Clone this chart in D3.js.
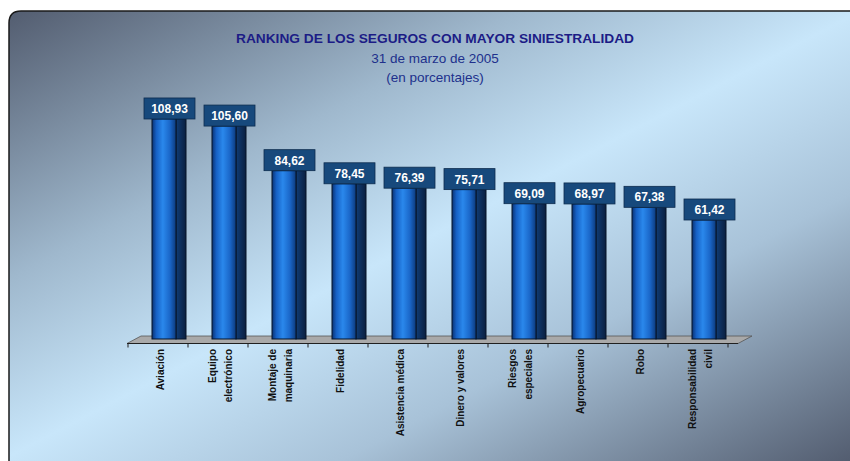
<!DOCTYPE html>
<html>
<head>
<meta charset="utf-8">
<script src="https://cdn.jsdelivr.net/npm/d3@7"></script>
<style>
  body { margin: 0; background: #fff; }
  svg { display: block; }
</style>
</head>
<body>
<div id="chart"></div>
<script>
'use strict';

// data
var categories = ["Aviación", "Equipo electrónico", "Montaje de maquinaria", "Fidelidad",
    "Asistencia médica", "Dinero y valores", "Riesgos especiales", "Agropecuario",
    "Robo", "Responsabilidad civil"];
var labelLines = [["Aviación"], ["Equipo", "electrónico"], ["Montaje de", "maquinaria"], ["Fidelidad"],
    ["Asistencia médica"], ["Dinero y valores"], ["Riesgos", "especiales"], ["Agropecuario"],
    ["Robo"], ["Responsabilidad", "civil"]];
var values = [108.93, 105.60, 84.62, 78.45, 76.39, 75.71, 69.09, 68.97, 67.38, 61.42];

var titleText = "RANKING DE LOS SEGUROS CON MAYOR SINIESTRALIDAD";
var subTitle1 = "31 de marzo de 2005";
var subTitle2 = "(en porcentajes)";

drawChart();

function drawChart() {

    var width = 850, height = 461;
    var floorY = 339;

    var svg = d3.select("#chart")
        .append("svg")
        .attr("width", width)
        .attr("height", height);

    var defs = svg.append("defs");

    // diagonal backdrop: dark corners top-left / bottom-right, light band in the middle
    var bg = defs.append("linearGradient")
        .attr("id", "bg")
        .attr("gradientUnits", "userSpaceOnUse")
        .attr("x1", 248).attr("y1", -113)
        .attr("x2", 613).attr("y2", 585);
    [[0, "#535d70"], [0.3, "#9fb8cd"], [0.5, "#c8e6fa"], [0.7, "#a8c2d8"], [1, "#535d70"]]
        .forEach(function (s) {
            bg.append("stop").attr("offset", s[0]).attr("stop-color", s[1]);
        });

    var front = defs.append("linearGradient").attr("id", "front");
    [[0, "#0a3272"], [0.18, "#1660c4"], [0.45, "#2a88ec"], [0.75, "#1a66c8"], [1, "#0c3a7c"]]
        .forEach(function (s) {
            front.append("stop").attr("offset", s[0]).attr("stop-color", s[1]);
        });

    var side = defs.append("linearGradient").attr("id", "side");
    [[0, "#103c74"], [1, "#0a1f40"]]
        .forEach(function (s) {
            side.append("stop").attr("offset", s[0]).attr("stop-color", s[1]);
        });

    // panel with rounded top-left corner
    svg.append("path")
        .attr("d", "M9,470 L9,23 Q9,11 21,11 L860,11 L860,470 Z")
        .attr("fill", "url(#bg)")
        .attr("stroke", "#1a1a1a")
        .attr("stroke-width", 1.5);

    // titles
    svg.append("text")
        .attr("x", 435)
        .attr("y", 43)
        .attr("text-anchor", "middle")
        .attr("textLength", 398)
        .attr("lengthAdjust", "spacingAndGlyphs")
        .style("font-family", "'Liberation Sans Narrow', 'Liberation Sans', Arial, sans-serif")
        .style("font-size", "13px")
        .style("font-weight", "bold")
        .style("fill", "#1c1c86")
        .text(titleText);

    svg.append("text")
        .attr("x", 435)
        .attr("y", 63)
        .attr("text-anchor", "middle")
        .style("font-family", "'Liberation Sans', Arial, sans-serif")
        .style("font-size", "13.5px")
        .style("fill", "#20308c")
        .text(subTitle1);

    svg.append("text")
        .attr("x", 435)
        .attr("y", 82)
        .attr("text-anchor", "middle")
        .style("font-family", "'Liberation Sans', Arial, sans-serif")
        .style("font-size", "13.5px")
        .style("fill", "#20308c")
        .text(subTitle2);

    var x = d3.scaleBand()
        .domain(categories)
        .range([128, 728])
        .padding(0);

    var y = d3.scaleLinear()
        .domain([0, 110])
        .range([350.6, 116.7]);

    var bw = x.bandwidth();
    var frontW = 24, sideW = 10, frontOff = 24;

    // floor
    svg.append("path")
        .attr("d", "M127,343.5 L141,336 L752,336 L738,343.5 Z")
        .attr("fill", "#a9a9a9")
        .attr("stroke", "#555")
        .attr("stroke-width", 0.8);
    svg.append("line")
        .attr("x1", 127).attr("x2", 738)
        .attr("y1", 343.5).attr("y2", 343.5)
        .attr("stroke", "#202020")
        .attr("stroke-width", 1.2);

    // ticks between categories
    var tickPos = categories.map(function (c) { return x(c); }).concat([x.range()[1]]);
    svg.selectAll("line.tick")
        .data(tickPos)
        .enter().append("line")
        .attr("class", "tick")
        .attr("x1", function (d) { return d; })
        .attr("x2", function (d) { return d; })
        .attr("y1", 343.5)
        .attr("y2", 347.5)
        .attr("stroke", "#202020");

    var bars = svg.selectAll("g.bar")
        .data(values)
        .enter().append("g")
        .attr("class", "bar");

    // side face
    bars.append("rect")
        .attr("x", function (d, i) { return x(categories[i]) + frontOff + frontW; })
        .attr("y", function (d) { return y(d); })
        .attr("width", sideW)
        .attr("height", function (d) { return floorY - y(d); })
        .attr("fill", "url(#side)")
        .attr("stroke", "#061428")
        .attr("stroke-width", 1);

    // front face
    bars.append("rect")
        .attr("x", function (d, i) { return x(categories[i]) + frontOff; })
        .attr("y", function (d) { return y(d); })
        .attr("width", frontW)
        .attr("height", function (d) { return floorY - y(d); })
        .attr("fill", "url(#front)")
        .attr("stroke", "#061428")
        .attr("stroke-width", 1);

    // value boxes
    var boxW = 51, boxH = 21;
    bars.append("rect")
        .attr("x", function (d, i) { return x(categories[i]) + frontOff + (frontW + sideW) / 2 - boxW / 2 + 0.5; })
        .attr("y", function (d) { return y(d) - boxH; })
        .attr("width", boxW)
        .attr("height", boxH)
        .attr("fill", "#17497c")
        .attr("stroke", "#0d2c4e")
        .attr("stroke-width", 0.8);

    bars.append("text")
        .attr("x", function (d, i) { return x(categories[i]) + frontOff + (frontW + sideW) / 2 + 0.5; })
        .attr("y", function (d) { return y(d) - 6; })
        .attr("text-anchor", "middle")
        .style("font-family", "'Liberation Sans', Arial, sans-serif")
        .style("font-size", "12px")
        .style("font-weight", "bold")
        .style("fill", "#ffffff")
        .text(function (d) { return d3.format(".2f")(d).replace(".", ","); });

    // category labels, rotated
    var labels = svg.selectAll("g.xlabel")
        .data(labelLines)
        .enter().append("g")
        .attr("class", "xlabel")
        .attr("transform", function (d, i) {
            return "translate(" + (x(categories[i]) + bw / 2 + 2) + ",349) rotate(-90)";
        });

    labels.each(function (lines) {
        var g = d3.select(this);
        var n = lines.length;
        lines.forEach(function (line, k) {
            g.append("text")
                .attr("x", 0)
                .attr("y", (k - (n - 1) / 2) * 16 + 3.5)
                .attr("text-anchor", "end")
                .style("font-family", "'Liberation Sans Narrow', 'Liberation Sans', Arial, sans-serif")
                .style("font-size", "10px")
                .style("font-weight", "bold")
                .style("fill", "#111")
                .text(line);
        });
    });
}
</script>
</body>
</html>
